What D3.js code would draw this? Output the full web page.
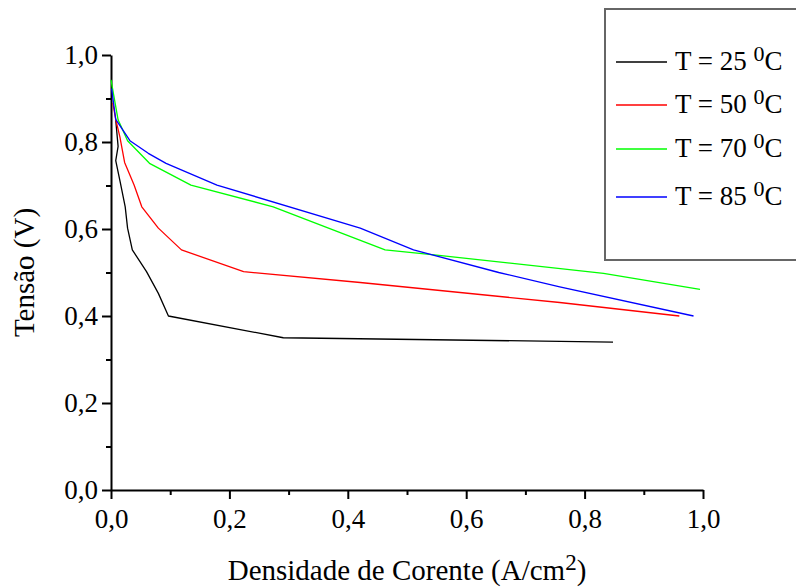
<!DOCTYPE html>
<html>
<head>
<meta charset="utf-8">
<script src="https://cdnjs.cloudflare.com/ajax/libs/d3/7.8.5/d3.min.js"></script>
<style>
    html, body { margin: 0; padding: 0; background: #ffffff; }
    svg, svg text { font-family: 'Liberation Serif', 'Times New Roman', serif; }
    svg { display: block; }
</style>
</head>
<body>
<div id="chart"></div>
<script>
const X_TICKS = [0, 0.2, 0.4, 0.6, 0.8, 1.0];
const X_MINOR_TICKS = [0.1, 0.3, 0.5, 0.7, 0.9];
const Y_TICKS = [0, 0.2, 0.4, 0.6, 0.8, 1.0];
const Y_MINOR_TICKS = [0.1, 0.3, 0.5, 0.7, 0.9];

const LEGEND_LABELS = ['T = 25', 'T = 50', 'T = 70', 'T = 85'];
const SERIES_COLORS = ['#000000', '#ff0000', '#00ff00', '#0000ff'];

// densidade de corrente (A/cm2) e tensão (V)
const current25 = [0.008, 0.012, 0.008, 0.016, 0.024, 0.028, 0.036, 0.060, 0.080, 0.097, 0.291, 0.848];
const voltage25 = [0.850, 0.790, 0.757, 0.705, 0.651, 0.602, 0.552, 0.502, 0.452, 0.400, 0.350, 0.340];

const current50 = [0.003, 0.008, 0.015, 0.023, 0.039, 0.052, 0.080, 0.119, 0.224, 0.421, 0.758, 0.960];
const voltage50 = [0.890, 0.852, 0.812, 0.753, 0.701, 0.651, 0.602, 0.552, 0.502, 0.477, 0.431, 0.400];

const current70 = [0.000, 0.012, 0.028, 0.065, 0.135, 0.274, 0.463, 0.550, 0.832, 0.995];
const voltage70 = [0.943, 0.851, 0.803, 0.751, 0.701, 0.651, 0.552, 0.540, 0.498, 0.461];

const current85 = [0.001, 0.008, 0.032, 0.063, 0.093, 0.179, 0.421, 0.511, 0.655, 0.758, 0.984];
const voltage85 = [0.923, 0.852, 0.803, 0.774, 0.751, 0.701, 0.602, 0.552, 0.500, 0.467, 0.400];

const SERIES = [
    { label: LEGEND_LABELS[0], color: SERIES_COLORS[0], x: current25, y: voltage25 },
    { label: LEGEND_LABELS[1], color: SERIES_COLORS[1], x: current50, y: voltage50 },
    { label: LEGEND_LABELS[2], color: SERIES_COLORS[2], x: current70, y: voltage70 },
    { label: LEGEND_LABELS[3], color: SERIES_COLORS[3], x: current85, y: voltage85 }
];

const width = 796;
const height = 588;
const fontFamily = "'Liberation Serif', 'Times New Roman', serif";
const formatComma = (value) => d3.format('.1f')(value).replace('.', ',');

const svg = d3.select('#chart').append('svg')
    .attr('width', width)
    .attr('height', height)
    .attr('font-family', fontFamily);

const xScale = d3.scaleLinear().domain([0, 1]).range([111, 703]);
const yScale = d3.scaleLinear().domain([0, 1]).range([490, 55]);

function styleAxis(group) {
    group.attr('font-family', fontFamily).attr('font-size', 27);
    group.select('.domain').attr('stroke', '#000').attr('stroke-width', 2);
    group.selectAll('line').attr('stroke', '#000').attr('stroke-width', 2);
    group.selectAll('text').attr('fill', '#000');
}

// eixos menores primeiro (sem linha de domínio)
svg.append('g')
    .attr('transform', `translate(0,${yScale(0)})`)
    .call(d3.axisBottom(xScale).tickValues(X_MINOR_TICKS).tickSize(5).tickFormat(''))
    .call((group) => group.select('.domain').remove())
    .call((group) => group.selectAll('line').attr('stroke', '#000').attr('stroke-width', 2));

svg.append('g')
    .attr('transform', `translate(${xScale(0)},0)`)
    .call(d3.axisLeft(yScale).tickValues(Y_MINOR_TICKS).tickSize(5).tickFormat(''))
    .call((group) => group.select('.domain').remove())
    .call((group) => group.selectAll('line').attr('stroke', '#000').attr('stroke-width', 2));

svg.append('g')
    .attr('transform', `translate(0,${yScale(0)})`)
    .call(d3.axisBottom(xScale).tickValues(X_TICKS).tickSize(9).tickSizeOuter(0).tickPadding(10).tickFormat(formatComma))
    .call(styleAxis);

svg.append('g')
    .attr('transform', `translate(${xScale(0)},0)`)
    .call(d3.axisLeft(yScale).tickValues(Y_TICKS).tickSize(9).tickSizeOuter(0).tickPadding(4).tickFormat(formatComma))
    .call(styleAxis);

// rótulos dos eixos
const xLabel = svg.append('text')
    .attr('x', (xScale(0) + xScale(1)) / 2)
    .attr('y', 580)
    .attr('text-anchor', 'middle')
    .attr('font-size', 29);
xLabel.append('tspan').text('Densidade de Corente (A/cm');
xLabel.append('tspan').attr('dy', -10).attr('font-size', 23).text('2');
xLabel.append('tspan').attr('dy', 10).text(')');

svg.append('text')
    .attr('transform', `translate(34,${(yScale(0) + yScale(1)) / 2}) rotate(-90)`)
    .attr('text-anchor', 'middle')
    .attr('font-size', 29)
    .text('Tensão (V)');

// curvas
const lineGenerator = d3.line()
    .x((datum) => xScale(datum[0]))
    .y((datum) => yScale(datum[1]));

SERIES.forEach((series) => {
    svg.append('path')
        .datum(d3.zip(series.x, series.y))
        .attr('fill', 'none')
        .attr('stroke', series.color)
        .attr('stroke-width', 1.3)
        .attr('stroke-linejoin', 'round')
        .attr('d', lineGenerator);
});

// legenda
svg.append('rect')
    .attr('x', 605)
    .attr('y', 9)
    .attr('width', 200)
    .attr('height', 251)
    .attr('fill', '#fff')
    .attr('stroke', '#666')
    .attr('stroke-width', 2);

const legendBaselines = [70, 113, 157, 205];

SERIES.forEach((series, index) => {
    const baseline = legendBaselines[index];
    svg.append('line')
        .attr('x1', 616)
        .attr('x2', 667)
        .attr('y1', baseline - 8)
        .attr('y2', baseline - 8)
        .attr('stroke', series.color)
        .attr('stroke-width', 1.3);

    const label = svg.append('text')
        .attr('x', 675)
        .attr('y', baseline)
        .attr('font-size', 27);
    label.append('tspan').text(`${series.label} `);
    label.append('tspan').attr('dy', -9).attr('font-size', 22).text('0');
    label.append('tspan').attr('dy', 9).text('C');
});
</script>
</body>
</html>
